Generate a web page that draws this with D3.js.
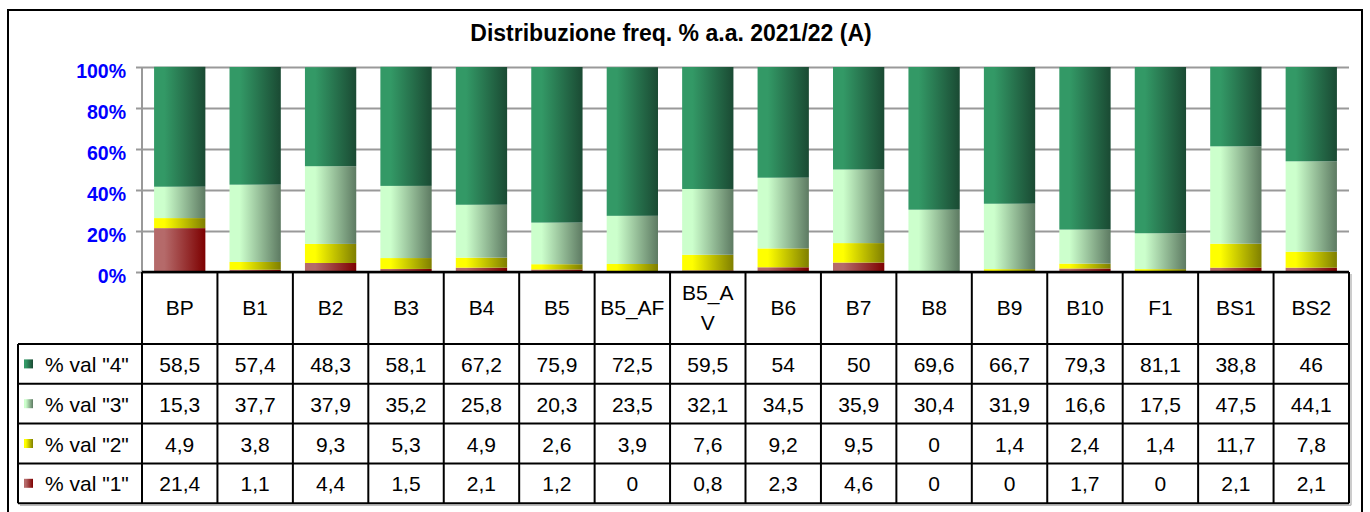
<!DOCTYPE html>
<html><head><meta charset="utf-8">
<script src="https://cdn.jsdelivr.net/npm/d3@7"></script>
<style>body{margin:0;background:#fff}svg{display:block}text{font-family:"Liberation Sans",Arial,sans-serif}</style>
</head><body>
<svg id="c" width="1370" height="512"></svg>
<script>
const categories = ["BP","B1","B2","B3","B4","B5","B5_AF","B5_AV","B6","B7","B8","B9","B10","F1","BS1","BS2"];
const headerLabels = [["BP"],["B1"],["B2"],["B3"],["B4"],["B5"],["B5_AF"],["B5_A","V"],["B6"],["B7"],["B8"],["B9"],["B10"],["F1"],["BS1"],["BS2"]];
const val4 = [58.5,57.4,48.3,58.1,67.2,75.9,72.5,59.5,54,50,69.6,66.7,79.3,81.1,38.8,46];
const val3 = [15.3,37.7,37.9,35.2,25.8,20.3,23.5,32.1,34.5,35.9,30.4,31.9,16.6,17.5,47.5,44.1];
const val2 = [4.9,3.8,9.3,5.3,4.9,2.6,3.9,7.6,9.2,9.5,0,1.4,2.4,1.4,11.7,7.8];
const val1 = [21.4,1.1,4.4,1.5,2.1,1.2,0,0.8,2.3,4.6,0,0,1.7,0,2.1,2.1];
const seriesNames = ['% val "4"','% val "3"','% val "2"','% val "1"'];
const yTicks = [0,20,40,60,80,100];
const title = "Distribuzione freq. % a.a. 2021/22 (A)";

const seriesDefs = [
  {key:"v1", name:seriesNames[3], values:val1, c0:"#b56a6a", c1:"#7d0000"},
  {key:"v2", name:seriesNames[2], values:val2, c0:"#ffff00", c1:"#7f7f00"},
  {key:"v3", name:seriesNames[1], values:val3, c0:"#ccffcc", c1:"#5d7a62"},
  {key:"v4", name:seriesNames[0], values:val4, c0:"#339966", c1:"#1a4a33"}
];

const svg = d3.select("#c");
const defs = svg.append("defs");
seriesDefs.forEach(s=>{
  const g = defs.append("linearGradient").attr("id","g_"+s.key).attr("x1",0).attr("x2",1).attr("y1",0).attr("y2",0);
  g.append("stop").attr("offset","0%").attr("stop-color",s.c0);
  g.append("stop").attr("offset","20%").attr("stop-color",s.c0);
  g.append("stop").attr("offset","100%").attr("stop-color",s.c1);
});

// outer border
svg.append("rect").attr("x",8).attr("y",10).attr("width",1354).attr("height",520)
  .attr("fill","none").attr("stroke","#000").attr("stroke-width",2);

svg.append("text").attr("x",671).attr("y",41).attr("text-anchor","middle")
  .attr("font-weight","bold").attr("font-size",23).text(title);

const pLeft = 142, pRight = 1349, pTop = 67, pBottom = 272;
const x = d3.scaleBand().domain(categories).range([pLeft,pRight]).paddingInner(0.32).paddingOuter(0.16);
const y = d3.scaleLinear().domain([0,100]).range([pBottom,pTop]);

// gridlines
const yAxis = d3.axisLeft(y).tickValues(yTicks).tickSize(-(pRight-pLeft)).tickFormat(d=>d+"%").tickPadding(16);
const ga = svg.append("g").attr("transform",`translate(${pLeft},0)`).call(yAxis);
ga.select(".domain").remove();
ga.selectAll(".tick line").attr("stroke","#999").attr("stroke-width",2).attr("x1",-6);
ga.selectAll(".tick text").attr("fill","#0000ff").attr("font-weight","bold").attr("font-size",19.5)
  .attr("dy","0.52em")
  .attr("font-family","'Liberation Sans',Arial,sans-serif");
svg.append("line").attr("x1",pLeft).attr("x2",pLeft).attr("y1",pTop).attr("y2",pBottom).attr("stroke","#999").attr("stroke-width",2);

// stacked bars
const rows = categories.map((c,i)=>{const o={cat:c}; seriesDefs.forEach(s=>o[s.key]=s.values[i]); return o;});
const stack = d3.stack().keys(seriesDefs.map(s=>s.key))(rows);
svg.append("g").selectAll("g").data(stack).join("g")
  .attr("fill",d=>`url(#g_${d.key})`)
  .selectAll("rect").data(d=>d).join("rect")
  .attr("x",d=>x(d.data.cat)).attr("width",x.bandwidth())
  .attr("y",d=>y(d[1])).attr("height",d=>Math.max(0,y(d[0])-y(d[1])));

// data table
const step = x.step();
const colX = i => pLeft + i*step;
const headTop = pBottom, headBot = 344, rowH = 39.8, tableLeft = 18;
const rowsOrder = [seriesDefs[3],seriesDefs[2],seriesDefs[1],seriesDefs[0]];
const tableBot = headBot + rowH*4;
const tg = svg.append("g");
tg.append("line").attr("x1",tableLeft+2).attr("x2",pRight+2).attr("y1",tableBot+2).attr("y2",tableBot+2).attr("stroke","#bbb").attr("stroke-width",1.5);
tg.append("line").attr("x1",pRight+2).attr("x2",pRight+2).attr("y1",headTop+2).attr("y2",tableBot+2).attr("stroke","#bbb").attr("stroke-width",1.5);
tg.append("line").attr("x1",pLeft).attr("x2",pRight).attr("y1",headTop).attr("y2",headTop).attr("stroke","#000").attr("stroke-width",2.5);
for(let r=0;r<=4;r++){
  const yy = headBot + r*rowH;
  tg.append("line").attr("x1",tableLeft).attr("x2",pRight).attr("y1",yy).attr("y2",yy).attr("stroke","#000").attr("stroke-width",2);
}
for(let i=0;i<=categories.length;i++){
  tg.append("line").attr("x1",colX(i)).attr("x2",colX(i)).attr("y1",headTop).attr("y2",tableBot).attr("stroke","#000").attr("stroke-width",2);
}
tg.append("line").attr("x1",tableLeft).attr("x2",tableLeft).attr("y1",headBot).attr("y2",tableBot).attr("stroke","#000").attr("stroke-width",2);

headerLabels.forEach((lines,i)=>{
  const cx = colX(i)+step/2;
  const t = tg.append("text").attr("text-anchor","middle").attr("font-size",21);
  if(lines.length===1){
    t.append("tspan").attr("x",cx).attr("y",315).text(lines[0]);
  } else {
    t.append("tspan").attr("x",cx).attr("y",300).text(lines[0]);
    t.append("tspan").attr("x",cx).attr("y",330).text(lines[1]);
  }
});
const fmt = v => String(v).replace(".",",");
rowsOrder.forEach((s,r)=>{
  const yTop = headBot + r*rowH;
  const cy = yTop + rowH/2;
  tg.append("rect").attr("x",24).attr("y",cy-4.5).attr("width",9).attr("height",9).attr("fill",`url(#g_${s.key})`);
  tg.append("text").attr("x",45).attr("y",cy+8).attr("font-size",21).text(s.name);
  s.values.forEach((v,i)=>{
    tg.append("text").attr("x",colX(i)+step/2).attr("y",cy+8).attr("text-anchor","middle").attr("font-size",21).text(fmt(v));
  });
});
</script>
</body></html>
